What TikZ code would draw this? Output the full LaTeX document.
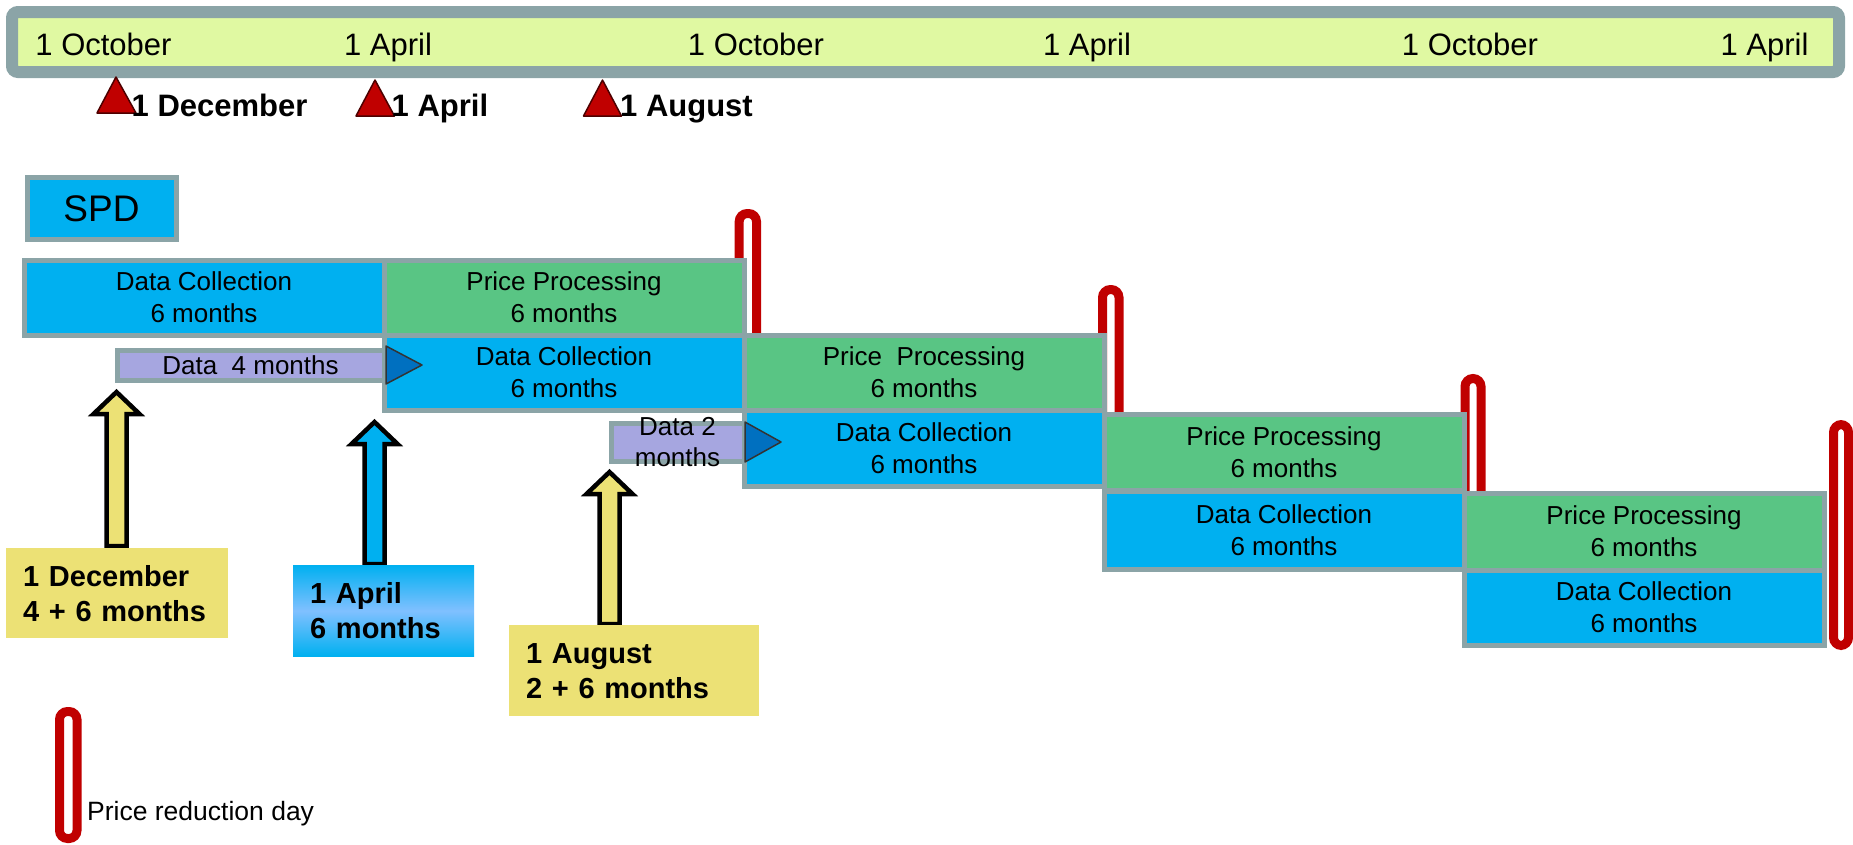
\documentclass[tikz,border=0pt]{standalone}
\usepackage{fontspec}
\setmainfont{Liberation Sans}
\usetikzlibrary{calc}
\definecolor{cblue}{HTML}{00B0F0}
\definecolor{cgreen}{HTML}{59C584}
\definecolor{clav}{HTML}{A6A6E0}
\definecolor{cgray}{HTML}{8BA4A7}
\definecolor{cbar}{HTML}{E0F9A2}
\definecolor{cyel}{HTML}{ECE175}
\definecolor{cred}{HTML}{C00000}
\definecolor{ctri}{HTML}{0070C0}
\definecolor{clight}{HTML}{80C0FF}
\newcommand\UpArr[4]{%
  \draw[blockarrow, fill=#1] (#2,#3) -- (#2+23,#3+22) -- (#2+10,#3+22) -- (#2+10,#4)
    -- (#2-10,#4) -- (#2-10,#3+22) -- (#2-23,#3+22) -- cycle;}
\begin{document}
\begin{tikzpicture}[x=1pt,y=-1pt,
  box/.style={draw=cgray, line width=5pt, inner sep=0pt, align=center,
    font=\fontsize{26}{32}\selectfont, minimum width=360pt},
  dcbox/.style={box, fill=cblue},
  ppbox/.style={box, fill=cgreen},
  lavbox/.style={draw=cgray, line width=5pt, fill=clav, inner sep=0pt},
  marker/.style={draw=cred, line width=9pt, fill=white, rounded corners=8pt},
  labbox/.style={inner xsep=17pt, inner ysep=0pt, align=left,
    font=\fontsize{29}{35}\selectfont\bfseries, anchor=north west},
  blockarrow/.style={draw=black, line width=4.5pt, line join=miter},
  redtri/.style={fill=cred, draw=black!60!cred, line width=1.5pt, line join=round},
  bluetri/.style={fill=ctri, draw=black!80, line width=1.5pt, line join=round},
  bartext/.style={font=\fontsize{31}{31}\selectfont, anchor=base, inner sep=0pt},
  datetext/.style={font=\fontsize{31}{31}\selectfont\bfseries, anchor=base west, inner sep=0pt},
  small/.style={font=\fontsize{26}{31}\selectfont, align=center, inner sep=0pt},
]
\useasboundingbox (0,0) rectangle (1853,844);

% top timeline bar
\node[draw=cgray, line width=12pt, fill=cbar, rounded corners=6pt,
  minimum width=1827pt, minimum height=60pt, inner sep=0pt] (bar) at (925.5,42) {};
\node[bartext] (t1) at (103.5,55) {1 October};
\node[bartext] (t2) at (388,55) {1 April};
\node[bartext] (t3) at (756,55) {1 October};
\node[bartext] (t4) at (1087,55) {1 April};
\node[bartext] (t5) at (1470,55) {1 October};
\node[bartext] (t6) at (1764.5,55) {1 April};

% red triangles with dates
\draw[redtri] (116,77) -- (136,113) -- (97,113) -- cycle;
\draw[redtri] (375,80) -- (394.5,116) -- (356,116) -- cycle;
\draw[redtri] (602.5,80) -- (621.5,116) -- (583.5,116) -- cycle;
\node[datetext] (d1) at (131.5,116.5) {1 December};
\node[datetext] (d2) at (391.5,116.5) {1 April};
\node[datetext] (d3) at (620,116.5) {1 August};

% SPD
\node[dcbox, minimum width=149pt, minimum height=62pt, font=\fontsize{37}{37}\selectfont] (spd) at (101.5,208.3) {SPD};

% price reduction markers (behind boxes)
\draw[marker] (739.2,213.5) rectangle (756.5,380);
\draw[marker] (1102.5,289.5) rectangle (1119,460);
\draw[marker] (1465,378.5) rectangle (1481,540);
\draw[marker] (1833.5,424.5) rectangle (1848.5,645.5);

% rows
\node[dcbox, minimum height=75pt] (dc1) at (204,297.5) {Data Collection\\6 months};
\node[ppbox, minimum height=75pt] (pp1) at (564,297.5) {Price Processing\\6 months};

\node[lavbox, minimum width=267pt, minimum height=30pt] (d4) at (250.5,365) {};
\node[small] (d4t) at (d4) {Data~~4 months};
\node[dcbox, minimum height=75pt] (dc2) at (564,372.5) {Data Collection\\6 months};
\node[ppbox, minimum height=75pt] (pp2) at (924,372.5) {Price~~Processing\\6 months};
\draw[bluetri] (386,346) -- (386,384) -- (422,365) -- cycle;

\node[lavbox, minimum width=133pt, minimum height=37.5pt] (d2) at (677.5,442.25) {};
\node[small] (d2t) at (677.5,442) {Data 2\\months};
\node[dcbox, minimum height=76pt] (dc3) at (924,448) {Data Collection\\6 months};
\node[ppbox, minimum height=76pt] (pp3) at (1284,452.5) {Price Processing\\6 months};
\draw[bluetri] (745,422) -- (745,462) -- (781,442) -- cycle;

\node[dcbox, minimum height=78pt] (dc4) at (1284,530) {Data Collection\\6 months};
\node[ppbox, minimum height=77pt] (pp4) at (1644,531.5) {Price Processing\\6 months};
\node[dcbox, minimum height=75pt] (dc5) at (1644,607.5) {Data Collection\\6 months};

% up arrows
\UpArr{cyel}{116.5}{392}{546}
\UpArr{cblue}{374.5}{422}{564}
\UpArr{cyel}{609.5}{472}{624}

% labels
\node[labbox, fill=cyel, text width=188pt, minimum height=90pt] (lab1) at (6,548) {1 December\\4 + 6 months};
\node[labbox, top color=cblue, bottom color=cblue, middle color=clight,
  text width=147pt, minimum height=91pt] (lab2) at (293,565) {1 April\\6 months};
\node[labbox, fill=cyel, text width=216pt, minimum height=91pt] (lab3) at (509,625) {1 August\\2 + 6 months};

% legend
\draw[marker] (59.5,711.5) rectangle (77,838.5);
\node[font=\fontsize{26.5}{26.5}\selectfont, anchor=base west, inner sep=0pt] (leg) at (87,820) {Price reduction day};
\end{tikzpicture}
\end{document}
